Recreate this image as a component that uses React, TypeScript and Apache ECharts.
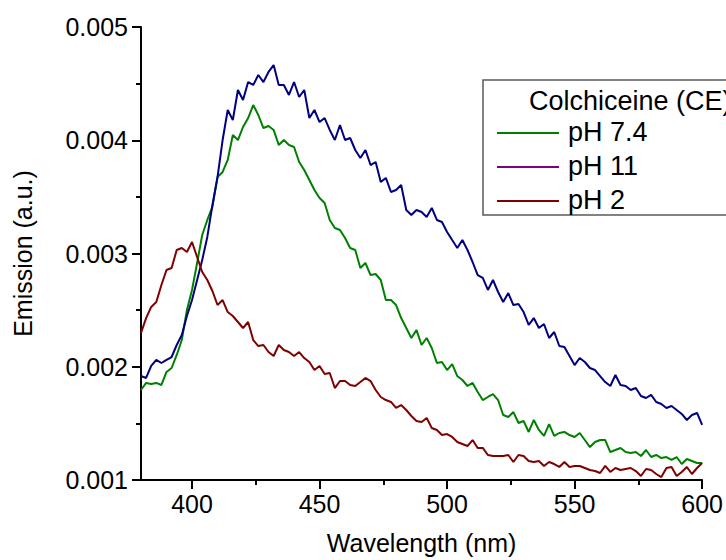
import React, { useEffect, useRef } from "react";
import * as echarts from "echarts";

// Wavelength grid (nm), 2 nm steps
const wavelengths: number[] = [];
for (let w = 380; w <= 600; w += 2) wavelengths.push(w);

// Emission values in units of 1e-3 a.u., one per wavelength
const ph74: number[] = [
  1.795, 1.857, 1.848, 1.857, 1.839, 1.954, 1.989, 2.104, 2.236, 2.501,
  2.678, 2.916, 3.163, 3.296, 3.411, 3.675, 3.72, 3.826, 4.046, 4.002,
  4.117, 4.196, 4.311, 4.223, 4.108, 4.126, 4.091, 3.958, 4.002, 3.958,
  3.94, 3.808, 3.737, 3.649, 3.561, 3.49, 3.446, 3.296, 3.225, 3.208,
  3.137, 3.049, 3.031, 2.872, 2.916, 2.81, 2.819, 2.766, 2.589, 2.589,
  2.545, 2.43, 2.342, 2.254, 2.325, 2.192, 2.254, 2.166, 2.033, 2.042,
  1.971, 2.024, 1.918, 1.883, 1.83, 1.857, 1.777, 1.706, 1.733, 1.759,
  1.706, 1.574, 1.556, 1.6, 1.503, 1.521, 1.424, 1.53, 1.442, 1.389,
  1.494, 1.389, 1.415, 1.424, 1.397, 1.38, 1.415, 1.353, 1.291, 1.336,
  1.353, 1.353, 1.247, 1.265, 1.283, 1.247, 1.238, 1.247, 1.212, 1.265,
  1.203, 1.221, 1.194, 1.203, 1.177, 1.203, 1.141, 1.185, 1.168, 1.15,
  1.15,
];

const ph11: number[] = [
  1.918, 1.901, 2.007, 2.06, 2.033, 2.06, 2.086, 2.192, 2.28, 2.448,
  2.589, 2.766, 2.943, 3.146, 3.428, 3.675, 4.002, 4.267, 4.179, 4.444,
  4.355, 4.514, 4.488, 4.576, 4.514, 4.603, 4.664, 4.488, 4.488, 4.4,
  4.514, 4.382, 4.444, 4.196, 4.267, 4.161, 4.196, 4.091, 4.002, 4.135,
  4.002, 4.02, 3.914, 3.843, 3.914, 3.781, 3.808, 3.631, 3.667, 3.543,
  3.561, 3.605, 3.384, 3.34, 3.384, 3.366, 3.322, 3.402, 3.296, 3.278,
  3.19, 3.119, 3.049, 3.119, 3.031, 2.925, 2.81, 2.784, 2.678, 2.766,
  2.66, 2.572, 2.651, 2.545, 2.554, 2.483, 2.369, 2.43, 2.342, 2.377,
  2.254, 2.307, 2.183, 2.174, 2.095, 2.015, 2.077, 2.042, 1.989, 1.971,
  1.918, 1.865, 1.83, 1.927, 1.839, 1.83, 1.795, 1.812, 1.742, 1.724,
  1.751, 1.689, 1.671, 1.636, 1.653, 1.618, 1.583, 1.53, 1.574, 1.592,
  1.486,
];

const ph2: number[] = [
  2.298, 2.43, 2.528, 2.572, 2.722, 2.854, 2.872, 3.031, 3.049, 3.013,
  3.102, 2.969, 2.837, 2.766, 2.669, 2.545, 2.589, 2.483, 2.448, 2.395,
  2.342, 2.395, 2.236, 2.183, 2.192, 2.13, 2.095, 2.192, 2.148, 2.13,
  2.095, 2.13, 2.077, 2.042, 1.971, 2.007, 1.936, 1.945, 1.812, 1.874,
  1.874, 1.839, 1.83, 1.865, 1.901, 1.874, 1.795, 1.733, 1.706, 1.689,
  1.636, 1.662, 1.618, 1.565, 1.521, 1.512, 1.547, 1.459, 1.442, 1.397,
  1.406, 1.38, 1.336, 1.318, 1.3, 1.353, 1.283, 1.283, 1.221, 1.212,
  1.212, 1.212, 1.221, 1.159, 1.221, 1.212, 1.168, 1.159, 1.168, 1.124,
  1.159, 1.141, 1.115, 1.159, 1.115, 1.124, 1.124, 1.106, 1.088, 1.079,
  1.062, 1.124, 1.071, 1.106, 1.088, 1.097, 1.106, 1.079, 1.035, 1.097,
  1.088, 1.053, 1.026, 1.106, 1.115, 1.035, 1.071, 1.115, 1.053, 1.106,
  1.15,
];

const UNIT = 1e-3;
const xMajorTicks = [400, 450, 500, 550, 600];
const xMinorTicks = [425, 475, 525, 575];
const legendTitle = "Colchiceine (CE)";
const legendNames = ["pH 7.4", "pH 11", "pH 2"];
const legendColors = ["#008000", "#800080", "#800000"];
const lineColors = ["#008000", "#000080", "#800000"];

const FONT = "Liberation Sans, Arial, sans-serif";

export default function App() {
  const ref = useRef<HTMLDivElement>(null);
  useEffect(() => {
    if (!ref.current) return;
    const chart = echarts.init(ref.current, null, { renderer: "svg" });
    const toPairs = (arr: number[]) => wavelengths.map((w, i) => [w, arr[i] * UNIT]);
    const seriesArrays = [ph74, ph11, ph2];

    const legendGraphics: any[] = [
      {
        type: "rect",
        shape: { x: 483, y: 80, width: 320, height: 135 },
        style: { fill: "#fff", stroke: "#5a5a5a", lineWidth: 1.5 },
        z: 100,
      },
      {
        type: "text",
        x: 529,
        y: 101,
        style: { text: legendTitle, font: `27px ${FONT}`, fill: "#000", verticalAlign: "middle" },
        z: 101,
      },
    ];
    legendNames.forEach((n, i) => {
      const y = 133 + i * 34;
      legendGraphics.push({
        type: "line",
        shape: { x1: 497, y1: y, x2: 559, y2: y },
        style: { stroke: legendColors[i], lineWidth: 2 },
        z: 101,
      });
      legendGraphics.push({
        type: "text",
        x: 568,
        y: y - 1,
        style: { text: n, font: `27px ${FONT}`, fill: "#000", verticalAlign: "middle" },
        z: 101,
      });
    });

    chart.setOption({
      animation: false,
      backgroundColor: "#fff",
      textStyle: { fontFamily: FONT },
      grid: { left: 141, right: 23, top: 27, bottom: 80, containLabel: false },
      xAxis: [
        {
          type: "value",
          min: 380,
          max: 600,
          name: "Wavelength (nm)",
          nameLocation: "middle",
          nameGap: 50,
          nameTextStyle: { fontSize: 25, color: "#000", fontFamily: FONT },
          axisLine: { show: true, onZero: false, lineStyle: { color: "#000", width: 2 } },
          axisTick: { show: true, customValues: xMajorTicks, length: 9, inside: false, lineStyle: { color: "#000", width: 2 } },
          axisLabel: { show: true, customValues: xMajorTicks, fontSize: 25, color: "#000", margin: 11, fontFamily: FONT },
          splitLine: { show: false },
        },
        {
          type: "value",
          min: 380,
          max: 600,
          position: "bottom",
          axisLine: { show: false },
          axisTick: { show: true, customValues: xMinorTicks, length: 5, inside: false, lineStyle: { color: "#000", width: 2 } },
          axisLabel: { show: false },
          splitLine: { show: false },
        },
      ],
      yAxis: {
        type: "value",
        min: 0.001,
        max: 0.005,
        interval: 0.001,
        name: "Emission (a.u.)",
        nameLocation: "middle",
        nameGap: 106,
        nameRotate: 90,
        nameTextStyle: { fontSize: 25, color: "#000", fontFamily: FONT },
        axisLine: { show: true, onZero: false, lineStyle: { color: "#000", width: 2 } },
        axisTick: { show: true, length: 9, lineStyle: { color: "#000", width: 2 } },
        minorTick: { show: true, splitNumber: 2, length: 5, lineStyle: { color: "#000", width: 2 } },
        axisLabel: {
          fontSize: 25,
          color: "#000",
          margin: 13,
          fontFamily: FONT,
          formatter: (v: number) => v.toFixed(3),
        },
        splitLine: { show: false },
        minorSplitLine: { show: false },
      },
      series: seriesArrays.map((arr, i) => ({
        name: legendNames[i],
        type: "line",
        xAxisIndex: 0,
        data: toPairs(arr),
        showSymbol: false,
        symbol: "none",
        lineStyle: { color: lineColors[i], width: 2 },
        itemStyle: { color: lineColors[i] },
        clip: true,
        z: 2 + i,
      })),
      graphic: legendGraphics,
    });
    return () => chart.dispose();
  }, []);
  return (
    <div
      ref={ref}
      style={{ position: "fixed", left: 0, top: 0, width: 726, height: 560, background: "#fff" }}
    />
  );
}
